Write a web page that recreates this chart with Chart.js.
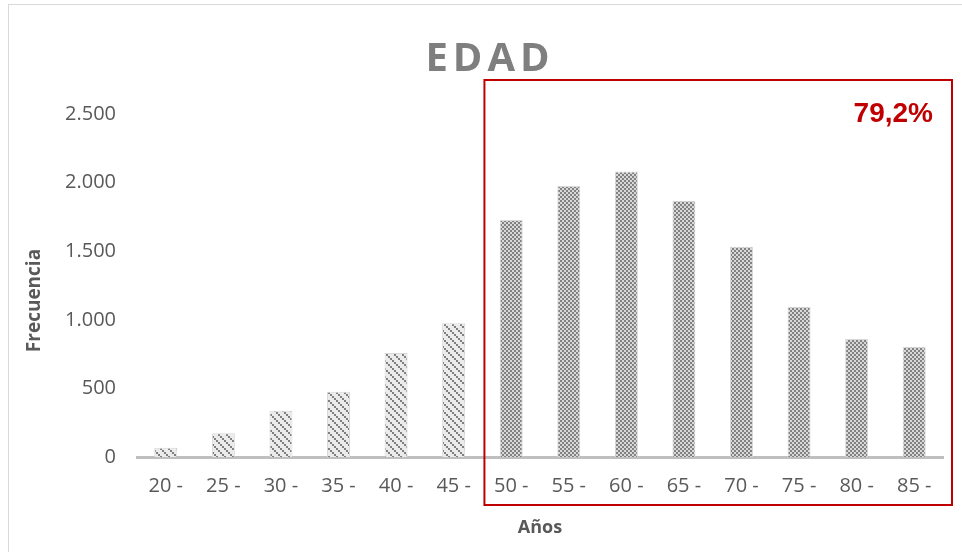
<!DOCTYPE html>
<html lang="es">
<head>
<meta charset="utf-8">
<title>EDAD</title>
<script src="https://cdn.jsdelivr.net/npm/chart.js@4/dist/chart.umd.min.js"></script>
<style>
  html, body { margin: 0; padding: 0; background: #ffffff; }
  #wrap { width: 962px; height: 552px; position: relative; }
</style>
</head>
<body>
<div id="wrap"><canvas id="grafico" width="962" height="552"></canvas></div>
<script>
// Grupos de edad y frecuencia de cada grupo
const categorias = ['20 -', '25 -', '30 -', '35 -', '40 -', '45 -', '50 -', '55 -', '60 -', '65 -', '70 -', '75 -', '80 -', '85 -'];
const frecuencias = [68, 173, 337, 476, 758, 975, 1727, 1975, 2080, 1868, 1533, 1095, 860, 804];
const marcasEje = [0, 500, 1000, 1500, 2000, 2500];

// Bloque destacado: desde el grupo "50 -" hasta el final
const inicioDestacado = 6;
const textoDestacado = '79,2%';
const tituloGrafico = 'EDAD';
const tituloEjeX = 'Años';
const tituloEjeY = 'Frecuencia';

// Tramas de relleno de las barras
function tramaDiagonal() {
  const c = document.createElement('canvas');
  c.width = 8; c.height = 8;
  const g = c.getContext('2d');
  g.fillStyle = '#ebebeb';
  g.fillRect(0, 0, 8, 8);
  g.fillStyle = '#7f7f7f';
  for (let cy = 0; cy < 4; cy++) {
    for (let cx = 0; cx < 4; cx++) {
      if (((cx - cy) % 4 + 4) % 4 === 0) g.fillRect(cx * 2, cy * 2, 2, 2);
    }
  }
  return g.createPattern(c, 'repeat');
}
function tramaCuadros() {
  const c = document.createElement('canvas');
  c.width = 4; c.height = 4;
  const g = c.getContext('2d');
  g.fillStyle = '#d8d8d8';
  g.fillRect(0, 0, 4, 4);
  g.fillStyle = '#828282';
  g.fillRect(0, 0, 2, 2);
  g.fillRect(2, 2, 2, 2);
  return g.createPattern(c, 'repeat');
}
const rellenoBajo = tramaDiagonal();
const rellenoAlto = tramaCuadros();

const separadorMiles = v => String(v).replace(/\B(?=(\d{3})+(?!\d))/g, '.');

// Fondo y marco exterior
const marco = {
  id: 'marco',
  beforeDraw(chart) {
    const ctx = chart.ctx;
    ctx.save();
    ctx.fillStyle = '#ffffff';
    ctx.fillRect(0, 0, chart.width, chart.height);
    ctx.strokeStyle = '#d9d9d9';
    ctx.lineWidth = 1;
    ctx.strokeRect(8.5, 4.5, chart.width + 10, chart.height + 10);
    ctx.restore();
  }
};

// Título con espaciado entre letras y rótulo vertical del eje de frecuencias
const titulos = {
  id: 'titulos',
  afterDraw(chart) {
    const ctx = chart.ctx;
    const area = chart.chartArea;
    ctx.save();
    ctx.font = 'bold 40px "Open Sans", sans-serif';
    ctx.letterSpacing = '5px';
    ctx.fillStyle = '#7f7f7f';
    ctx.textAlign = 'center';
    ctx.textBaseline = 'alphabetic';
    ctx.fillText(tituloGrafico, (area.left + area.right) / 2 - 50, 71);
    ctx.restore();

    ctx.save();
    ctx.font = 'bold 19px "Open Sans", sans-serif';
    ctx.fillStyle = '#595959';
    ctx.textAlign = 'center';
    ctx.textBaseline = 'middle';
    ctx.translate(35, (area.top + area.bottom) / 2 + 15);
    ctx.rotate(-Math.PI / 2);
    ctx.fillText(tituloEjeY, 0, 0);
    ctx.restore();
  }
};

// Recuadro rojo sobre los grupos destacados
const recuadro = {
  id: 'recuadro',
  afterDraw(chart) {
    const ctx = chart.ctx;
    const area = chart.chartArea;
    const x = chart.scales.x;
    const izq = (x.getPixelForValue(inicioDestacado - 1) + x.getPixelForValue(inicioDestacado)) / 2 + 2;
    const der = area.right + 9;
    const sup = area.top - 34;
    const inf = area.bottom + 48;
    ctx.save();
    ctx.strokeStyle = '#c00000';
    ctx.lineWidth = 2;
    ctx.strokeRect(izq, sup, der - izq, inf - sup);
    ctx.font = 'bold 28px "Liberation Sans", Arial, sans-serif';
    ctx.fillStyle = '#c00000';
    ctx.textAlign = 'right';
    ctx.textBaseline = 'alphabetic';
    ctx.fillText(textoDestacado, der - 19, sup + 42);
    ctx.restore();
  }
};

new Chart(document.getElementById('grafico'), {
  type: 'bar',
  data: {
    labels: categorias,
    datasets: [{
      label: tituloEjeY,
      data: frecuencias,
      backgroundColor: ctx => (ctx.dataIndex < inicioDestacado ? rellenoBajo : rellenoAlto),
      borderColor: '#d9d9d9',
      borderWidth: 1,
      categoryPercentage: 1,
      barPercentage: 0.4
    }]
  },
  options: {
    responsive: false,
    animation: false,
    devicePixelRatio: 1,
    layout: { padding: { left: 0, right: 19, top: 114, bottom: 0 } },
    plugins: {
      legend: { display: false },
      title: { display: false },
      tooltip: { enabled: false }
    },
    scales: {
      x: {
        grid: { display: false, drawTicks: false },
        border: { display: true, color: '#bfbfbf', width: 3 },
        ticks: {
          color: '#595959',
          font: { family: '"Open Sans", sans-serif', size: 20 },
          padding: 17,
          maxRotation: 0,
          autoSkip: false
        },
        title: {
          display: true,
          text: tituloEjeX,
          color: '#595959',
          font: { family: '"Open Sans", sans-serif', size: 18, weight: 'bold' },
          padding: { top: 0, bottom: 13 }
        },
        afterFit(scale) { scale.height = 95; }
      },
      y: {
        min: marcasEje[0],
        max: marcasEje[marcasEje.length - 1],
        afterBuildTicks(scale) { scale.ticks = marcasEje.map(v => ({ value: v })); },
        grid: { display: false, drawTicks: false },
        border: { display: false },
        ticks: {
          color: '#595959',
          font: { family: '"Open Sans", sans-serif', size: 20 },
          padding: 21,
          callback: v => separadorMiles(v)
        },
        title: { display: false },
        afterFit(scale) { scale.width = 137; }
      }
    }
  },
  plugins: [marco, titulos, recuadro]
});
</script>
</body>
</html>
